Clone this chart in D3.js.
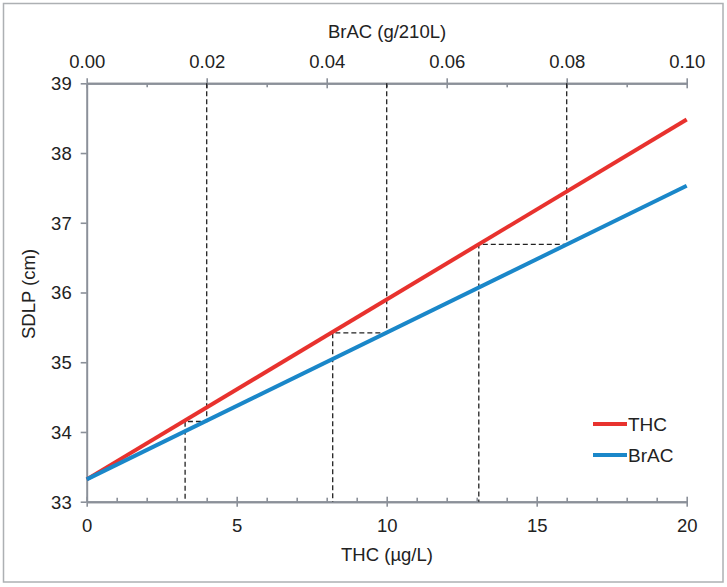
<!DOCTYPE html>
<html><head><meta charset="utf-8">
<script src="https://cdn.jsdelivr.net/npm/d3@7"></script>
<style>
html,body{margin:0;padding:0;background:#fff;}
text{font-family:"Liberation Sans",Arial,sans-serif;fill:#222;}
</style></head>
<body><svg id="c" width="727" height="587"></svg>
<script>
// ---- data ----
const thcTicks = [0, 5, 10, 15, 20];
const thcMinor = [1,2,3,4,6,7,8,9,11,12,13,14,16,17,18,19];
const bracTicks = [0, 0.02, 0.04, 0.06, 0.08, 0.10];
const bracMinor = [0.01, 0.03, 0.05, 0.07, 0.09];
const sdlpTicks = [33, 34, 35, 36, 37, 38, 39];
const thcX = [0, 20];
const thcSDLP = [33.32, 38.48];
const bracX = [0, 0.10];
const bracSDLP = [33.32, 37.53];
const refBrAC = [0.02, 0.05, 0.08];
const refTHC = [3.28, 8.2, 13.07];
const refSDLP = [34.15, 35.42, 36.69];
const seriesNames = ["THC", "BrAC"];
const seriesColors = ["#e8322e", "#1a87c9"];

const svg = d3.select("#c");
const axisColor = "#8b9099";
const FS = 18.5;
const L = 86.7, R = 686.7, T = 83.3, B = 501.7;
const x = d3.scaleLinear().domain([0, 20]).range([L, R]);
const xb = d3.scaleLinear().domain([0, 0.10]).range([L, R]);
const y = d3.scaleLinear().domain([33, 39]).range([B, T]);

// outer frame
svg.append("rect").attr("x", 3.5).attr("y", 3.5).attr("width", 719.5).attr("height", 578.5)
  .attr("fill", "none").attr("stroke", "#adb0b3").attr("stroke-width", 1.5);

function styleAxis(g){
  g.select(".domain").attr("stroke", axisColor).attr("stroke-width", 2);
  g.selectAll(".tick line").attr("stroke", axisColor).attr("stroke-width", 1.6);
  g.selectAll(".tick text").attr("font-size", FS).attr("fill", "#222")
   .attr("font-family", '"Liberation Sans",Arial,sans-serif');
}

// bottom axis
const gb = svg.append("g").attr("transform", `translate(0,${B})`)
  .call(d3.axisBottom(x).tickValues(thcTicks).tickSize(5).tickFormat(d3.format("d")).tickSizeOuter(0));
styleAxis(gb);
gb.selectAll(".tick line").attr("y1", -5);
gb.selectAll(".tick text").attr("y", 30).attr("dy", 0);
const gbm = svg.append("g").attr("transform", `translate(0,${B})`)
  .call(d3.axisBottom(x).tickValues(thcMinor).tickSize(-4).tickFormat("").tickSizeOuter(0));
styleAxis(gbm);

// top axis
const gt = svg.append("g").attr("transform", `translate(0,${T})`)
  .call(d3.axisTop(xb).tickValues(bracTicks).tickSize(5).tickFormat(d3.format(".2f")).tickSizeOuter(0));
styleAxis(gt);
gt.selectAll(".tick line").attr("y1", 5);
gt.selectAll(".tick text").attr("y", -15).attr("dy", 0);
const gtm = svg.append("g").attr("transform", `translate(0,${T})`)
  .call(d3.axisTop(xb).tickValues(bracMinor).tickSize(-4).tickFormat("").tickSizeOuter(0));
styleAxis(gtm);

// left axis
const gl = svg.append("g").attr("transform", `translate(${L},0)`)
  .call(d3.axisLeft(y).tickValues(sdlpTicks).tickSize(6).tickFormat(d3.format("d")).tickSizeOuter(0));
styleAxis(gl);
gl.selectAll(".tick text").attr("x", -15).attr("dy", "0.35em");

// dashed reference lines
const dash = svg.append("g").attr("fill", "none").attr("stroke", "#222")
  .attr("stroke-width", 1.3).attr("stroke-dasharray", "5,3");
refBrAC.forEach((b, i) => {
  const yy = y(refSDLP[i]);
  dash.append("path").attr("d", `M${xb(b)},${T}V${yy}H${x(refTHC[i])}V${B}`);
});

// series lines
const line = d3.line().x(d => d[0]).y(d => d[1]);
svg.append("path").datum(thcX.map((v, i) => [x(v), y(thcSDLP[i])]))
  .attr("d", line).attr("fill", "none").attr("stroke", seriesColors[0]).attr("stroke-width", 4);
svg.append("path").datum(bracX.map((v, i) => [xb(v), y(bracSDLP[i])]))
  .attr("d", line).attr("fill", "none").attr("stroke", seriesColors[1]).attr("stroke-width", 4);

// axis titles
svg.append("text").attr("x", 387).attr("y", 38).attr("text-anchor", "middle")
  .attr("font-size", FS).text("BrAC (g/210L)");
svg.append("text").attr("x", 387).attr("y", 561).attr("text-anchor", "middle")
  .attr("font-size", FS).text("THC (µg/L)");
svg.append("text").attr("transform", "translate(35,294) rotate(-90)").attr("text-anchor", "middle")
  .attr("font-size", FS).text("SDLP (cm)");

// legend
const leg = svg.append("g");
seriesNames.forEach((n, i) => {
  const ly = 424 + i * 31;
  leg.append("line").attr("x1", 593).attr("x2", 627).attr("y1", ly).attr("y2", ly)
    .attr("stroke", seriesColors[i]).attr("stroke-width", 4);
  leg.append("text").attr("x", 628).attr("y", ly + 6.5).attr("font-size", 19).text(n);
});
</script></body></html>
